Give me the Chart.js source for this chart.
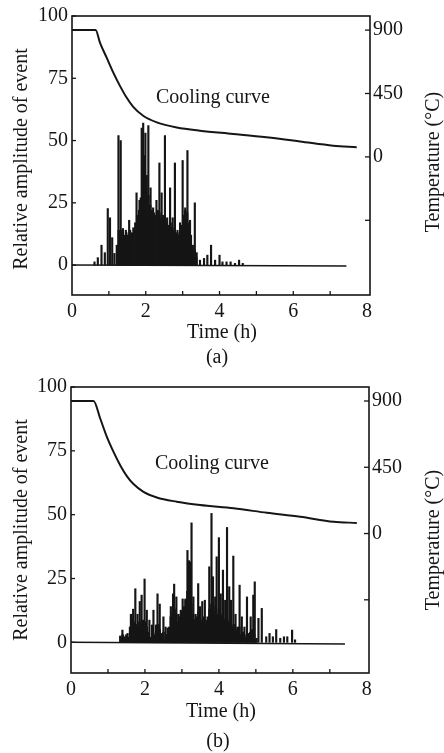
<!DOCTYPE html>
<html><head><meta charset="utf-8">
<script src="https://cdn.jsdelivr.net/npm/chart.js@4.4.1/dist/chart.umd.min.js"></script>
<style>
html,body{margin:0;padding:0;background:#fff;}
#wrapA{position:absolute;left:0;top:0;width:444px;height:380px;}
#wrapB{position:absolute;left:0;top:370px;width:444px;height:383px;}
canvas{display:block;}
</style></head><body>
<div id="wrapA"><canvas id="chartA" width="444" height="380"></canvas></div>
<div id="wrapB"><canvas id="chartB" width="444" height="383"></canvas></div>
<script>
// ---------- tick values / labels ----------
const timeTicks = [0,1,2,3,4,5,6,7,8];
const timeTickLabels = ['0','','2','','4','','6','','8'];
const ampTicks = [0,25,50,75,100];
const ampTickLabels = ['0','25','50','75','100'];
const tempTicks = [-450,0,450,900];
const tempTickLabels = ['','0','450','900'];

// ---------- chart (a) ----------
const coolTimeA = [0,0.64,0.76,0.94,1.12,1.30,1.48,1.66,1.93,2.30,2.84,3.47,4.37,5.27,6.18,7.08,7.72];
const coolTempA = [900,900,809,704,598,504,421,355,292,245,209,186,163,139,110,80,68];
const spikeTimeA = [0.61,0.70,0.80,0.89,0.97,1.03,1.09,1.15,1.26,1.32,1.38,1.46,1.55,1.64,1.75,1.83,1.89,1.93,1.99,2.07,2.13,2.20,2.29,2.37,2.43,2.52,2.58,2.66,2.73,2.79,2.86,2.93,3.00,3.07,3.13,3.20,3.33,3.38,3.47,3.58,3.67,3.77,3.88,4.00,4.08,4.19,4.30,4.42,4.53,4.63];
const spikeAmpA = [1.3,3,8,5,22.7,19,11,4.7,52,50,14.7,14,18,11,29,26,55,57,53,56,31,23,26,41,29,52,19,31,19,41,14,17,42,23,46,18,25,5,2,2.7,4,8,2,4,1.3,1.3,1.3,0.7,2,0.7];
const fillTimeA = [1.22,1.27,1.32,1.37,1.42,1.47,1.52,1.57,1.62,1.67,1.72,1.77,1.82,1.87,1.92,1.97,2.02,2.07,2.12,2.17,2.22,2.27,2.32,2.37,2.42,2.47,2.52,2.57,2.62,2.67,2.72,2.77,2.82,2.87,2.92,2.97,3.02,3.07,3.12,3.17,3.22,3.27,3.32,3.37];
const fillAmpA = [8,14,13,14,12,13,12,14,13,15,17,20,22,27,40,44,36,28,24,22,21,20,22,21,19,20,18,17,16,17,15,14,13,12,13,16,20,22,21,17,12,8,6,3];
const baseTimeA = [0,7.44];
const baseAmpA = [0,-0.4];

// ---------- chart (b) ----------
const coolTimeB = [0,0.61,0.79,0.97,1.15,1.33,1.51,1.69,1.96,2.32,2.86,3.49,4.40,5.30,6.20,7.10,7.73];
const coolTempB = [900,900,781,656,554,464,390,336,283,245,216,193,171,141,114,80,72];
const spikeTimeB = [1.33,1.39,1.44,1.53,1.62,1.68,1.74,1.80,1.86,1.91,1.95,1.99,2.05,2.12,2.19,2.23,2.30,2.34,2.40,2.44,2.50,2.56,2.62,2.70,2.76,2.79,2.85,2.91,2.97,3.02,3.10,3.15,3.19,3.22,3.26,3.31,3.37,3.44,3.49,3.55,3.62,3.67,3.74,3.80,3.84,3.90,3.94,4.00,4.05,4.11,4.17,4.22,4.28,4.33,4.39,4.45,4.50,4.56,4.62,4.69,4.76,4.81,4.86,4.93,4.97,5.02,5.07,5.16,5.28,5.37,5.46,5.55,5.66,5.76,5.85,5.98,6.06];
const spikeAmpB = [2.5,4.8,2.2,3.5,11,13,21,11,16,18.5,8.7,24.8,12.6,8.7,6.8,12.6,6.8,19,15,3.5,10,6,5.5,14,19,22.8,17.8,11,12.6,17,16.5,36,32,31.5,46.8,17.8,11,23,14,16,16.5,8.7,29.6,50.5,25.7,17.8,33.5,41,19,28.3,16.5,45,21.8,16.5,33.8,11,6,22.4,10,6,17.8,3.5,10,18.5,23.7,1.6,9.4,13.3,2.2,3.5,2.2,5,1.6,2.2,2.2,4.8,1];
const fillTimeB = [1.35,1.40,1.45,1.50,1.55,1.60,1.65,1.70,1.75,1.80,1.85,1.90,1.95,2.00,2.05,2.10,2.15,2.20,2.25,2.30,2.35,2.40,2.45,2.50,2.55,2.60,2.65,2.70,2.75,2.80,2.85,2.90,2.95,3.00,3.05,3.10,3.15,3.20,3.25,3.30,3.35,3.40,3.45,3.50,3.55,3.60,3.65,3.70,3.75,3.80,3.85,3.90,3.95,4.00,4.05,4.10,4.15,4.20,4.25,4.30,4.35,4.40,4.45,4.50,4.55,4.60,4.65,4.70,4.75,4.80,4.85,4.90,4.95,5.00];
const fillAmpB = [2,3,2,3,2,6,9,8,7,6,8,7,5,8,6,4,2,5,3,4,7,5,2,4,1,3,6,10,12,13,11,8,10,12,14,17,20,18,15,11,9,10,12,9,8,10,7,10,13,15,14,12,11,13,10,11,9,10,8,9,6,7,5,4,6,3,4,2,3,2,4,5,3,1];
const baseTimeB = [0,7.41];
const baseAmpB = [0,-0.6];

// ---------- helpers ----------
const FONT = '"Liberation Serif","Times New Roman",serif';
const INK = '#151515';
const zip = (xs, ys) => xs.map((x, i) => ({x: x, y: ys[i]}));

function decorPlugin(o) {
  return {
    id: 'decor',
    afterDatasetsDraw(chart) {
      const ctx = chart.ctx, a = chart.chartArea, s = chart.scales;
      ctx.save();
      ctx.strokeStyle = INK;
      ctx.lineWidth = 1.6;
      ctx.strokeRect(a.left, a.top, a.right - a.left, a.bottom - a.top);
      ctx.lineWidth = 1.3;
      const seg = (x1, y1, x2, y2) => { ctx.beginPath(); ctx.moveTo(x1, y1); ctx.lineTo(x2, y2); ctx.stroke(); };
      timeTicks.forEach(v => { if (v <= 0 || v >= 8) return; const px = s.x.getPixelForValue(v); seg(px, a.bottom, px, a.bottom - 4); });
      ampTicks.forEach(v => { const py = s.y.getPixelForValue(v); seg(a.left, py, a.left + 4, py); });
      tempTicks.forEach(v => { const py = s.yT.getPixelForValue(v); seg(a.right, py, a.right - 5, py); });
      ctx.fillStyle = INK;
      ctx.font = '20px ' + FONT;
      ctx.textAlign = 'center';
      ctx.textBaseline = 'middle';
      ctx.fillText('Time (h)', o.xTitle[0], o.xTitle[1]);
      ctx.fillText(o.caption, o.cap[0], o.cap[1]);
      ctx.fillText('Cooling curve', s.x.getPixelForValue(o.labelAt[0]), s.y.getPixelForValue(o.labelAt[1]));
      ctx.save(); ctx.translate(o.leftTitle[0], o.leftTitle[1]); ctx.rotate(-Math.PI / 2);
      ctx.fillText('Relative amplitude of event', 0, 0); ctx.restore();
      ctx.save(); ctx.translate(o.rightTitle[0], o.rightTitle[1]); ctx.rotate(-Math.PI / 2);
      ctx.fillText('Temperature (\u00B0C)', 0, 0); ctx.restore();
      ctx.restore();
    }
  };
}

function makeChart(id, d, o) {
  const W = 444, H = o.H;
  const tickFont = {family: FONT, size: 20, lineHeight: 1.2};
  return new Chart(document.getElementById(id), {
    type: 'bar',
    data: {
      datasets: [
        {type: 'line', data: zip(d.coolT, d.coolV), yAxisID: 'yT', borderColor: INK, borderWidth: 2,
         pointRadius: 0, cubicInterpolationMode: 'monotone', fill: false, order: 0},
        {type: 'line', data: zip(d.baseT, d.baseV), yAxisID: 'y', borderColor: INK, borderWidth: 1.5,
         pointRadius: 0, fill: false, order: 1},
        {type: 'bar', data: zip(d.fillT, d.fillV), yAxisID: 'y', backgroundColor: INK,
         barThickness: 2, grouped: false, borderWidth: 0, order: 2},
        {type: 'bar', data: zip(d.spikeT, d.spikeV), yAxisID: 'y', backgroundColor: INK,
         barThickness: 1.5, grouped: false, borderWidth: 0, order: 3}
      ]
    },
    options: {
      responsive: false, animation: false, events: [],
      layout: {padding: {top: o.top, left: 0, right: 0, bottom: 0}},
      plugins: {legend: {display: false}, tooltip: {enabled: false}, title: {display: false}},
      scales: {
        x: {
          type: 'linear', min: 0, max: o.xMax, offset: false,
          grid: {display: false, drawTicks: false}, border: {display: false},
          afterBuildTicks: sc => { sc.ticks = timeTicks.map(v => ({value: v})); },
          ticks: {autoSkip: false, maxRotation: 0, padding: 5, color: INK, font: tickFont,
                  callback: v => timeTickLabels[timeTicks.indexOf(v)]},
          afterFit: sc => { sc.height = H - o.bottom; }
        },
        y: {
          type: 'linear', position: 'left', min: -12, max: 100,
          grid: {display: false, drawTicks: false}, border: {display: false},
          afterBuildTicks: sc => { sc.ticks = ampTicks.map(v => ({value: v})); },
          ticks: {autoSkip: false, padding: 4, color: INK, font: tickFont,
                  callback: v => ampTickLabels[ampTicks.indexOf(v)]},
          afterFit: sc => { sc.width = o.left; }
        },
        yT: {
          type: 'linear', position: 'right', min: o.tMin, max: o.tMax,
          grid: {display: false, drawTicks: false}, border: {display: false},
          afterBuildTicks: sc => { sc.ticks = tempTicks.map(v => ({value: v})); },
          ticks: {autoSkip: false, padding: 3, color: INK, font: tickFont,
                  callback: v => tempTickLabels[tempTicks.indexOf(v)]},
          afterFit: sc => { sc.width = W - o.right; }
        }
      }
    },
    plugins: [decorPlugin(o)]
  });
}

makeChart('chartA',
  {coolT: coolTimeA, coolV: coolTempA, baseT: baseTimeA, baseV: baseAmpA,
   fillT: fillTimeA, fillV: fillAmpA, spikeT: spikeTimeA, spikeV: spikeAmpA},
  {H: 380, top: 15, bottom: 295, left: 72, right: 370, xMax: 8.08, tMin: -980, tMax: 1000,
   caption: '(a)', cap: [217, 358], xTitle: [222, 333], labelAt: [3.82, 67.2],
   leftTitle: [22, 159], rightTitle: [434, 162]});

makeChart('chartB',
  {coolT: coolTimeB, coolV: coolTempB, baseT: baseTimeB, baseV: baseAmpB,
   fillT: fillTimeB, fillV: fillAmpB, spikeT: spikeTimeB, spikeV: spikeAmpB},
  {H: 383, top: 17, bottom: 303, left: 71, right: 369, xMax: 8.06, tMin: -947, tMax: 995,
   caption: '(b)', cap: [218, 372], xTitle: [221, 342], labelAt: [3.81, 70],
   leftTitle: [22, 160], rightTitle: [434, 170]});
</script>
</body></html>
